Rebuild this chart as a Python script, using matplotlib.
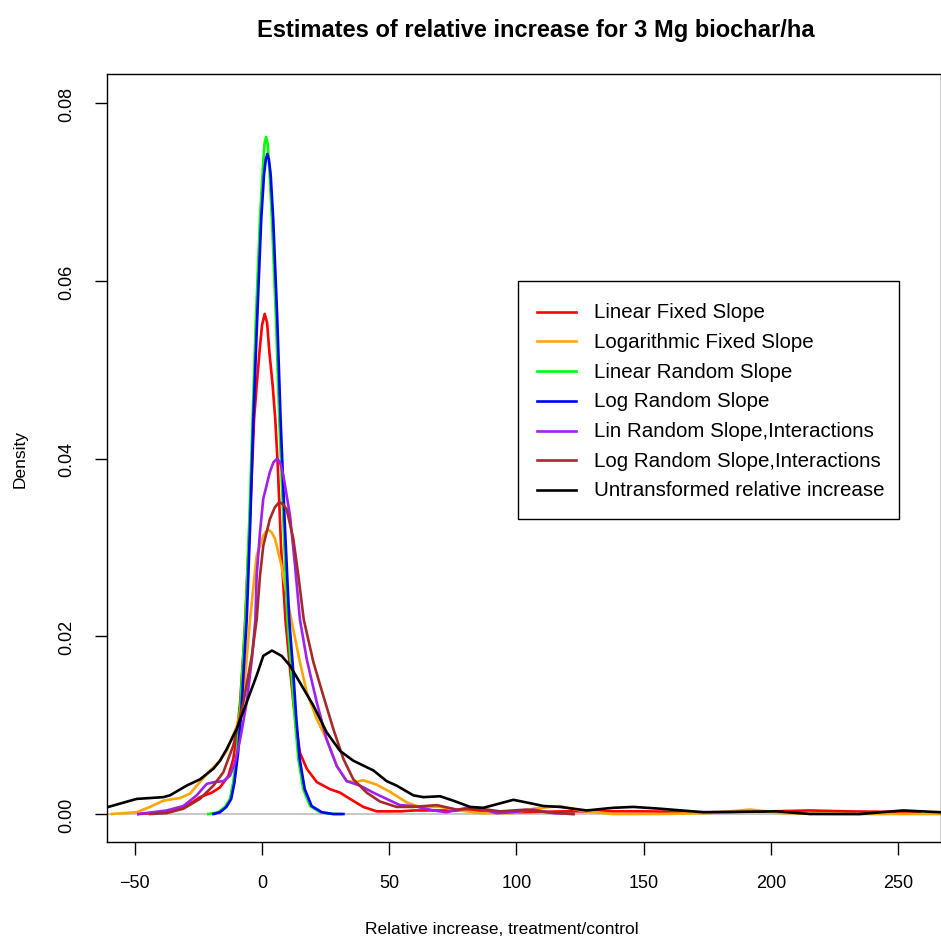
import matplotlib
matplotlib.use("Agg")
import matplotlib.pyplot as plt
from matplotlib.lines import Line2D
from matplotlib.patches import Rectangle

plt.rcParams["font.family"] = ["Liberation Sans", "DejaVu Sans"]

# density curves (x = relative increase, y = density)
lin_fixed_x = [-48.6, -37.5, -29.6, -24.4, -19.8, -16.5, -13.2, -11.3, -9.9, -8.6, -7.3, -6.6,
               -4.8, -3.1, -2.1, -1.0, 0.0, 1.05, 2.0, 2.9, 4.2, 5.2, 6.2, 7.5, 9.2, 10.8,
               12.3, 13.6, 14.9, 17.6, 21.5, 26.7, 30.7, 34.6, 39.8, 45.1, 54.2, 60, 80,
               100, 120, 150, 175, 200, 215, 230, 258.6]
lin_fixed_y = [0.0, 0.0002, 0.0009, 0.0019, 0.0024, 0.0030, 0.0043, 0.0062, 0.0088, 0.0126,
               0.0182, 0.0219, 0.0330, 0.0445, 0.0482, 0.0520, 0.0550, 0.0563, 0.0553, 0.0520,
               0.0482, 0.0445, 0.0392, 0.0300, 0.0219, 0.0170, 0.0126, 0.0096, 0.0069, 0.0051,
               0.0036, 0.0028, 0.0024, 0.0017, 0.0008, 0.0003, 0.0003, 0.0004, 0.0004, 0.0002,
               0.0003, 0.0003, 0.0002, 0.0003, 0.0004, 0.0003, 0.0002]

log_fixed_x = [-59.1, -49.3, -44.0, -38.8, -32.2, -28.3, -24.4, -20.4, -17.2, -13.9, -9.9, -7.3,
               -4.7, -2.1, 0.5, 1.5, 2.5, 3.8, 5.1, 7.7, 9.7, 11.5, 14.9, 17.6, 21.5, 25.4,
               29.4, 33.3, 36.5, 39.8, 45.1, 50.3, 56.9, 62.1, 70.0, 77.8, 85.7, 98.8, 106.7,
               117.1, 125, 138, 156, 176, 191.8, 205, 230, 266.9]
log_fixed_y = [0.0, 0.0002, 0.0008, 0.0015, 0.0018, 0.0023, 0.0036, 0.0049, 0.0058, 0.0071,
               0.0099, 0.0133, 0.0219, 0.0291, 0.0313, 0.0318, 0.0320, 0.0317, 0.0310, 0.0279,
               0.0246, 0.0219, 0.0171, 0.0137, 0.0107, 0.0084, 0.0054, 0.0037, 0.0036, 0.0038,
               0.0033, 0.0025, 0.0013, 0.0008, 0.0008, 0.0004, 0.0001, 0.0001, 0.0006, 0.0009,
               0.0004, 0.0, 0.0, 0.0001, 0.0005, 0.0001, 0.0, 0.0]

lin_random_x = [-21.1, -17.2, -14.5, -12.6, -11.3, -9.9, -8.6, -7.3, -6.5, -5.0, -3.7, -2.4,
                -0.8, 0.3, 1.0, 1.6, 2.2, 2.9, 3.9, 5.5, 6.8, 8.4, 10.0, 11.5, 12.9, 14.3,
                16.2, 18.9, 22.8, 28.0, 31.0]
lin_random_y = [0.0, 0.0002, 0.0008, 0.0017, 0.0036, 0.0069, 0.0118, 0.0182, 0.0219, 0.0330,
                0.0445, 0.0557, 0.0670, 0.0726, 0.0755, 0.0762, 0.0755, 0.0726, 0.0670, 0.0557,
                0.0445, 0.0330, 0.0219, 0.0163, 0.0107, 0.0062, 0.0028, 0.0009, 0.0002, 0.0, 0.0]

log_random_x = [-19.1, -16.5, -14.0, -12.1, -10.8, -9.4, -8.1, -6.8, -6.0, -4.6, -3.4, -1.9,
                -0.3, 0.8, 1.5, 2.1, 2.7, 3.4, 4.4, 6.0, 7.3, 8.9, 10.7, 12.2, 13.5, 14.8,
                16.8, 19.5, 23.5, 28.0, 32.0]
log_random_y = [0.0, 0.0002, 0.0008, 0.0017, 0.0036, 0.0069, 0.0118, 0.0182, 0.0219, 0.0330,
                0.0445, 0.0557, 0.0670, 0.0720, 0.0737, 0.0743, 0.0737, 0.0720, 0.0670, 0.0557,
                0.0445, 0.0330, 0.0219, 0.0163, 0.0107, 0.0062, 0.0028, 0.0009, 0.0002, 0.0, 0.0]

lin_inter_x = [-48.6, -37.5, -30.9, -25.7, -21.7, -18.5, -15.2, -12.6, -10.6, -8.6, -6.0, -4.0,
               -2.6, -2.1, -0.8, 0.5, 3.1, 4.5, 6.0, 7.2, 8.4, 11.0, 13.0, 14.9, 17.6, 21.5,
               25.4, 29.4, 33.3, 38.5, 43.8, 49.0, 54.2, 59.5, 67.4, 72.6, 80.5, 85.7, 92.3,
               98.8, 106.7, 114.5, 122.4]
lin_inter_y = [0.0, 0.0004, 0.0009, 0.0021, 0.0034, 0.0036, 0.0037, 0.0043, 0.0058, 0.0084,
               0.0126, 0.0174, 0.0219, 0.0268, 0.0317, 0.0355, 0.0385, 0.0396, 0.0400, 0.0395,
               0.0381, 0.0336, 0.0279, 0.0219, 0.0174, 0.0126, 0.0084, 0.0054, 0.0037, 0.0032,
               0.0024, 0.0017, 0.0010, 0.0009, 0.0004, 0.0002, 0.0007, 0.0006, 0.0001, 0.0002,
               0.0005, 0.0001, 0.0]

log_inter_x = [-44.0, -37.5, -30.9, -24.4, -19.1, -15.2, -11.3, -7.3, -4.0, -2.1, -0.8, 0.5,
               3.1, 5.0, 6.7, 8.2, 9.7, 12.3, 14.3, 16.4, 20.2, 24.1, 28.0, 32.0, 35.9, 41.2,
               46.4, 52.9, 59.5, 68.7, 76.5, 85.7, 93.6, 104, 111.9, 122.4]
log_inter_y = [0.0, 0.0001, 0.0006, 0.0017, 0.0032, 0.0047, 0.0077, 0.0126, 0.0178, 0.0219,
               0.0268, 0.0302, 0.0332, 0.0345, 0.0351, 0.0349, 0.0343, 0.0310, 0.0268, 0.0219,
               0.0171, 0.0133, 0.0096, 0.0062, 0.0039, 0.0024, 0.0014, 0.0008, 0.0008, 0.0010,
               0.0005, 0.0006, 0.0003, 0.0005, 0.0002, 0.0]

raw_x = [-61, -49.3, -38.8, -36.2, -29.6, -24.4, -19.1, -16.5, -13.9, -9.9, -6.0, -2.1, 0.5,
         3.9, 7.7, 11.0, 14.9, 20.2, 25.4, 30.7, 35.9, 43.8, 49.0, 52.9, 59.5, 63.4, 70.0,
         75.2, 81.8, 87.0, 92.3, 98.8, 104, 110.6, 117.1, 127.6, 138.1, 146, 156.4, 173.5,
         202.3, 215.4, 235, 252, 266.9]
raw_y = [0.00075, 0.0017, 0.0019, 0.0021, 0.0032, 0.0039, 0.0051, 0.0060, 0.0073, 0.0096,
         0.0126, 0.0156, 0.0178, 0.0184, 0.0178, 0.0167, 0.0148, 0.0122, 0.0092, 0.0071,
         0.0060, 0.0049, 0.0037, 0.0032, 0.0021, 0.0019, 0.0020, 0.0015, 0.0008, 0.0007,
         0.0011, 0.0016, 0.0013, 0.0009, 0.0008, 0.0004, 0.0007, 0.0008, 0.0006, 0.0002,
         0.0003, 0.0, 0.0, 0.0004, 0.0002]

labels = ["Linear Fixed Slope", "Logarithmic Fixed Slope", "Linear Random Slope",
          "Log Random Slope", "Lin Random Slope,Interactions", "Log Random Slope,Interactions",
          "Untransformed relative increase"]
colors = ["#FF0000", "#FFA500", "#00FF00", "#0000FF", "#A020F0", "#A52A2A", "#000000"]
series = [(lin_fixed_x, lin_fixed_y), (log_fixed_x, log_fixed_y),
          (lin_random_x, lin_random_y), (log_random_x, log_random_y),
          (lin_inter_x, lin_inter_y), (log_inter_x, log_inter_y), (raw_x, raw_y)]

W, H = 941, 945
fig = plt.figure(figsize=(W / 100, H / 100), dpi=100)
ax = fig.add_axes([107 / W, (H - 843) / H, (W - 107) / W, (843 - 75) / H])

ax.axhline(0, color="#BEBEBE", linewidth=1.2, zorder=1)
for (xs, ys), c in zip(series, colors):
    ax.plot(xs, ys, color=c, linewidth=1.9, solid_joinstyle="round", zorder=2)

ax.set_xlim(-60.93, 266.9)
ax.set_ylim(-0.00315, 0.0833)
ax.set_xticks([-50, 0, 50, 100, 150, 200, 250])
ax.set_xticklabels(["\u221250", "0", "50", "100", "150", "200", "250"])
ax.set_yticks([0.0, 0.02, 0.04, 0.06, 0.08])
ax.set_yticklabels(["0.00", "0.02", "0.04", "0.06", "0.08"], rotation=90, va="center")
ax.tick_params(direction="out", length=9, width=1, labelsize=13, pad=14)
ax.tick_params(axis="y", pad=14)
for s in ax.spines.values():
    s.set_linewidth(1)

fig.text(502 / W, 1 - 930 / H, "Relative increase, treatment/control",
         ha="center", va="center", fontsize=12.5)
fig.text(20 / W, 1 - 459 / H, "Density", ha="center", va="center",
         rotation=90, fontsize=12.5)
fig.text(536 / W, 1 - 30 / H, "Estimates of relative increase for 3 Mg biochar/ha",
         ha="center", va="center", fontsize=17, fontweight="bold")

# legend drawn in figure pixels
def fx(px):
    return px / W

def fy(py):
    return 1 - py / H

fig.patches.append(Rectangle((fx(518), fy(520)), fx(899) - fx(518), fy(282) - fy(520),
                             transform=fig.transFigure, fill=False, edgecolor="black",
                             linewidth=1))
for i, (lab, c) in enumerate(zip(labels, colors)):
    yy = 312.7 + i * 29.7
    fig.lines.append(Line2D([fx(537), fx(576)], [fy(yy), fy(yy)],
                            transform=fig.transFigure, color=c, linewidth=1.9))
    fig.text(fx(594), fy(yy), lab, ha="left", va="center", fontsize=14.8)

fig.savefig("out.png", dpi=100)
